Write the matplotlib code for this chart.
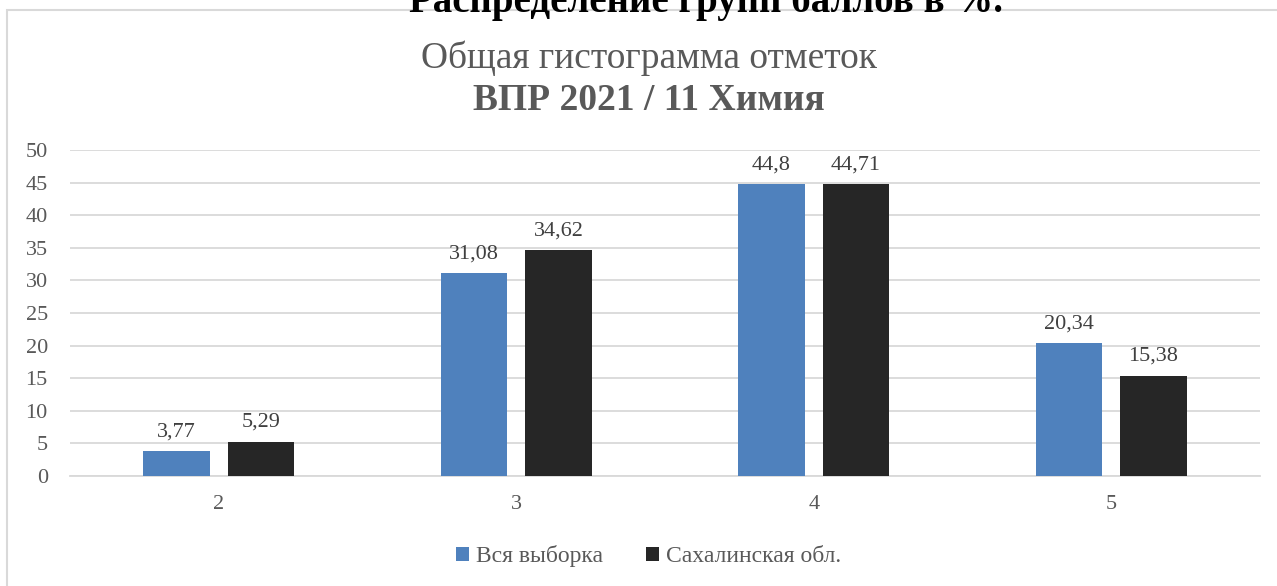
import matplotlib
matplotlib.use("Agg")
import matplotlib.pyplot as plt
import numpy as np

plt.rcParams["font.serif"] = ["Liberation Serif", "DejaVu Serif"]
plt.rcParams["font.family"] = "serif"
SERIF = ["Liberation Serif", "DejaVu Serif"]

categories = ["2", "3", "4", "5"]
all_sample = [3.77, 31.08, 44.8, 20.34]
sakhalin = [5.29, 34.62, 44.71, 15.38]
series_names = ["Вся выборка", "Сахалинская обл."]
y_ticks = [0, 5, 10, 15, 20, 25, 30, 35, 40, 45, 50]

BLUE = "#4F81BD"
BLACK = "#262626"
GRAY_TEXT = "#595959"
GRID = "#D9D9D9"
TICK_FONTSIZE = 16


def fmt(v):
    return f"{v:g}".replace(".", ",")


fig = plt.figure(figsize=(12.77, 5.86), dpi=100)
ax = fig.add_axes([70 / 1277, 1 - 476 / 586, 1190 / 1277, 326 / 586])

# chart border, cut off at the right and bottom like the screenshot
fig.patches.append(plt.Rectangle((7 / 1277, -0.1), 1.2, 1 - 10 / 586 + 0.1,
                                 transform=fig.transFigure, fill=False,
                                 edgecolor="#D9D9D9", linewidth=1.5))

x = np.arange(len(categories))
w = 0.222
off = 0.142
b1 = ax.bar(x - off, all_sample, w, color=BLUE, label=series_names[0], zorder=3)
b2 = ax.bar(x + off, sakhalin, w, color=BLACK, label=series_names[1], zorder=3)

for bars, vals in ((b1, all_sample), (b2, sakhalin)):
    for r, v in zip(bars, vals):
        ax.annotate(fmt(v), (r.get_x() + r.get_width() / 2, v), xytext=(0, 7),
                    textcoords="offset points", ha="center", va="bottom",
                    fontsize=TICK_FONTSIZE, color="#404040", family=SERIF)

ax.set_xlim(-0.5, len(categories) - 0.5)
ax.set_ylim(0, 50)
ax.set_yticks(y_ticks)
ax.set_xticks(x)
ax.set_xticklabels(categories)
ax.yaxis.grid(True, color=GRID, linewidth=1.3, zorder=0)
ax.set_axisbelow(True)
for s in ["top", "right", "left"]:
    ax.spines[s].set_visible(False)
ax.spines["bottom"].set_color(GRID)
ax.spines["bottom"].set_linewidth(1.3)
ax.tick_params(axis="both", length=0, labelsize=TICK_FONTSIZE, colors=GRAY_TEXT)
ax.tick_params(axis="y", pad=16)
ax.tick_params(axis="x", pad=14)
for t in ax.get_xticklabels() + ax.get_yticklabels():
    t.set_family(SERIF)

fig.text(0.553, 1 - 12 / 586, "Распределение групп баллов в %.", ha="center",
         va="baseline", fontsize=28, fontweight="bold", color="black", family=SERIF)
fig.text(0.508, 1 - 68 / 586, "Общая гистограмма отметок", ha="center",
         va="baseline", fontsize=27, color=GRAY_TEXT, family=SERIF)
fig.text(0.508, 1 - 110 / 586, "ВПР 2021 / 11 Химия", ha="center",
         va="baseline", fontsize=27, fontweight="bold", color=GRAY_TEXT, family=SERIF)

leg = fig.legend(loc="center", bbox_to_anchor=(0.508, 1 - 556 / 586), ncol=2,
                 frameon=False, prop={"family": SERIF, "size": 17},
                 handlelength=0.55, handleheight=0.55, handletextpad=0.3,
                 columnspacing=1.8)
for t in leg.get_texts():
    t.set_color(GRAY_TEXT)

fig.savefig("out.png", dpi=100)
